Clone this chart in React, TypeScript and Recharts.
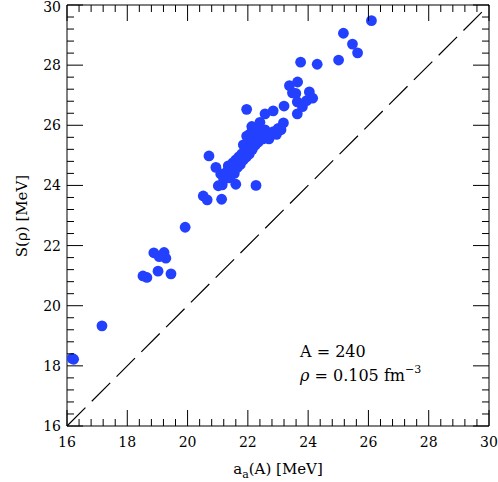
import React from "react";
import {
  ReferenceLine,
  Scatter,
  ScatterChart,
  XAxis,
  YAxis
} from "recharts";

// a_a(A) values [MeV]
const aa = [
  16.17, 16.22, 17.16, 18.52, 18.65, 19.02, 19.45, 18.88, 19.22, 19.06,
  19.28, 19.92, 20.52, 20.65, 21.13, 21.02, 21.15, 21.6, 22.27, 20.71,
  20.94, 21.1, 21.96, 22.57, 22.84, 23.2, 23.18, 23.64, 23.81, 23.64,
  23.95, 24.15, 24.04, 23.48, 23.59, 23.38, 23.65, 23.75, 24.3, 25.01,
  26.1, 25.17, 25.47, 25.64, 22.13, 22.38, 22.57, 22.85, 23.01, 21.96,
  21.2, 21.3, 21.35, 21.45, 21.5, 21.55, 21.6, 21.65, 21.7, 21.75,
  21.8, 21.85, 21.9, 21.95, 22.0, 22.05, 22.1, 22.15, 22.2, 22.25,
  22.3, 22.35, 22.45, 22.5, 22.6, 22.7, 22.8, 22.95, 23.1, 22.05,
  21.85, 22.4, 21.4, 21.25, 22.15
];

// S(rho) values [MeV]
const srho = [
  18.25, 18.22, 19.33, 20.99, 20.94, 21.15, 21.06, 21.76, 21.77, 21.63,
  21.58, 22.61, 23.65, 23.52, 23.54, 23.99, 24.02, 24.04, 24.0, 24.98,
  24.6, 24.38, 26.53, 26.38, 26.48, 26.64, 26.08, 26.38, 26.62, 26.78,
  26.82, 26.9, 27.11, 27.08, 27.06, 27.32, 27.44, 28.1, 28.03, 28.17,
  29.48, 29.06, 28.7, 28.41, 25.96, 25.94, 25.85, 25.79, 25.9, 25.64,
  24.2, 24.45, 24.65, 24.5, 24.75, 24.4, 24.85, 24.6, 24.95, 24.7,
  25.05, 24.85, 25.15, 24.95, 25.3, 25.05, 25.45, 25.2, 25.6, 25.35,
  25.7, 25.45, 25.75, 25.55, 25.65, 25.55, 25.75, 25.7, 25.85, 25.7,
  25.35, 26.1, 24.25, 24.35, 25.85
];

const axisMin = 16;
const axisMax = 30;
const majorTicks = [16, 18, 20, 22, 24, 26, 28, 30];
const allTicks = Array.from({ length: 36 }, (_, i) => Math.round((16 + i * 0.4) * 10) / 10);

const data = aa.map((x, i) => ({ x, y: srho[i] }));

const font = "'DejaVu Serif', serif";
const blue = "#2440ff";

const isMajor = (v: number) => majorTicks.includes(v);

function BottomTick({ x, y, payload }: any) {
  const major = isMajor(payload.value);
  return (
    <g>
      <line x1={x} x2={x} y1={y} y2={y - (major ? 16 : 7)} stroke="#000" />
      {major && (
        <text x={x} y={y + 21} textAnchor="middle" fontFamily={font} fontSize={14} fill="#000">
          {payload.value}
        </text>
      )}
    </g>
  );
}

function LeftTick({ x, y, payload }: any) {
  const major = isMajor(payload.value);
  return (
    <g>
      <line x1={x} x2={x + (major ? 16 : 7)} y1={y} y2={y} stroke="#000" />
      {major && (
        <text x={x - 6} y={Math.max(y + 5, 12)} textAnchor="end" fontFamily={font} fontSize={14} fill="#000">
          {payload.value}
        </text>
      )}
    </g>
  );
}

function TopTick({ x, y, payload }: any) {
  const major = isMajor(payload.value);
  return <line x1={x} x2={x} y1={y} y2={y + (major ? 16 : 7)} stroke="#000" />;
}

function RightTick({ x, y, payload }: any) {
  const major = isMajor(payload.value);
  return <line x1={x} x2={x - (major ? 16 : 7)} y1={y} y2={y} stroke="#000" />;
}

const Dot = (props: any) => <circle cx={props.cx} cy={props.cy} r={5.4} fill={blue} />;

export default function App() {
  return (
    <div style={{ position: "absolute", left: 0, top: 0 }}>
      <ScatterChart width={498} height={482} margin={{ top: 4, right: 8, left: 66, bottom: 55 }}>
        <XAxis
          type="number"
          dataKey="x"
          xAxisId="b"
          domain={[axisMin, axisMax]}
          ticks={allTicks}
          interval={0}
          height={1}
          tickSize={0}
          tickMargin={0}
          tickLine={false}
          tick={<BottomTick />}
          axisLine={{ stroke: "#000" }}
          allowDataOverflow
        />
        <XAxis
          type="number"
          dataKey="x"
          xAxisId="t"
          orientation="top"
          domain={[axisMin, axisMax]}
          ticks={allTicks}
          interval={0}
          height={1}
          tickSize={0}
          tickMargin={0}
          tickLine={false}
          tick={<TopTick />}
          axisLine={{ stroke: "#000" }}
          allowDataOverflow
        />
        <YAxis
          type="number"
          dataKey="y"
          yAxisId="l"
          domain={[axisMin, axisMax]}
          ticks={allTicks}
          interval={0}
          width={1}
          tickSize={0}
          tickMargin={0}
          tickLine={false}
          tick={<LeftTick />}
          axisLine={{ stroke: "#000" }}
          allowDataOverflow
        />
        <YAxis
          type="number"
          dataKey="y"
          yAxisId="r"
          orientation="right"
          domain={[axisMin, axisMax]}
          ticks={allTicks}
          interval={0}
          width={1}
          tickSize={0}
          tickMargin={0}
          tickLine={false}
          tick={<RightTick />}
          axisLine={{ stroke: "#000" }}
          allowDataOverflow
        />
        <ReferenceLine
          xAxisId="b"
          yAxisId="l"
          segment={[{ x: axisMin, y: axisMin }, { x: axisMax, y: axisMax }]}
          stroke="#000"
          strokeWidth={1.2}
          strokeDasharray="26 9"
        />
        <Scatter xAxisId="b" yAxisId="l" data={data} shape={<Dot />} isAnimationActive={false} />
        <text x={278} y={474} textAnchor="middle" fontFamily={font} fontSize={15} fill="#000">
          a<tspan fontSize={11} dy={4}>a</tspan>
          <tspan dy={-4}>(A) [MeV]</tspan>
        </text>
        <text
          x={27}
          y={216}
          transform="rotate(-90 27 216)"
          textAnchor="middle"
          fontFamily={font}
          fontSize={15}
          fill="#000"
        >
          S(ρ) [MeV]
        </text>
        <text x={300} y={357} fontFamily={font} fontSize={16} fill="#000">
          A = 240
        </text>
        <text x={300} y={381} fontFamily={font} fontSize={16} fill="#000">
          <tspan fontStyle="italic">ρ</tspan> = 0.105 fm
          <tspan fontSize={11} dy={-8}>−3</tspan>
        </text>
      </ScatterChart>
    </div>
  );
}
